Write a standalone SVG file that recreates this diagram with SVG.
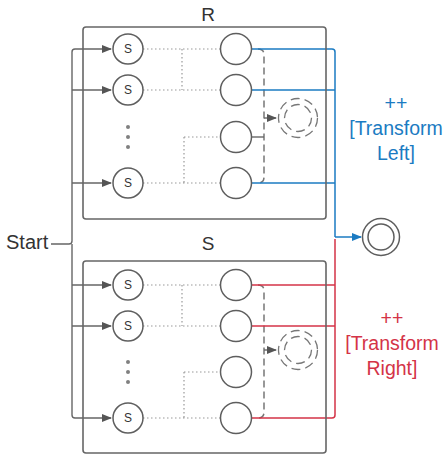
<svg xmlns="http://www.w3.org/2000/svg" width="447" height="456" viewBox="0 0 447 456">
<style>
.box{fill:none;stroke:#666;stroke-width:1.6}
.st{fill:#fff;stroke:#5e5e5e;stroke-width:1.5}
.lbl{font-family:"Liberation Sans",Arial,sans-serif;fill:#333}
.sl{font-size:12px;text-anchor:middle}
.ttl{font-size:19px;text-anchor:middle}
.dot{fill:none;stroke:#999;stroke-width:1.2;stroke-dasharray:1.5 2.5}
.dash{fill:none;stroke:#777;stroke-width:1.5;stroke-dasharray:7 4}
.dc{fill:none;stroke:#777;stroke-width:1.3;stroke-dasharray:9 5}
.g{fill:none;stroke:#666;stroke-width:1.4}
.blue{fill:none;stroke:#1b7bc2;stroke-width:1.5}
.red{fill:none;stroke:#d43347;stroke-width:1.5}
.ann{font-family:"Liberation Sans",Arial,sans-serif;font-size:19.5px;text-anchor:middle}
</style>
<defs>
<marker id="ag" markerWidth="10" markerHeight="8" refX="9" refY="4" orient="auto" markerUnits="userSpaceOnUse"><path d="M0,0 L10,4 L0,8 z" fill="#555"/></marker>
<marker id="ab" markerWidth="10" markerHeight="8" refX="9" refY="4" orient="auto" markerUnits="userSpaceOnUse"><path d="M0,0 L10,4 L0,8 z" fill="#1b7bc2"/></marker>
</defs>

<g id="start">
<text class="lbl" x="6" y="249" font-size="20">Start</text>
</g>

<g id="connectors">
<path class="g" d="M51,244 H69 Q72,244 72,241 V52 Q72,49 75,49 H111" marker-end="url(#ag)"/>
<path class="g" d="M72,90 H111" marker-end="url(#ag)"/>
<path class="g" d="M72,183 H111" marker-end="url(#ag)"/>
<path class="g" d="M72,244 V415 Q72,418 75,418 H111" marker-end="url(#ag)"/>
<path class="g" d="M72,285 H111" marker-end="url(#ag)"/>
<path class="g" d="M72,326 H111" marker-end="url(#ag)"/>

<path class="dot" d="M143,49 H220 M143,90 H220 M182,49 V90 M143,183 H220 M184,137 H220 M184,137 V183"/>
<path class="dot" d="M143,285 H220 M143,326 H220 M182,285 V326 M143,418 H220 M184,372 H220 M184,372 V418"/>

<path class="dash" d="M258,49 Q264,49 264,55 V177 Q264,183 258,183"/>
<path class="g" d="M251,137 H264"/>
<path class="g" d="M264,118 H276" marker-end="url(#ag)"/>
<path class="dash" d="M258,285 Q264,285 264,291 V412 Q264,418 258,418"/>
<path class="g" d="M264,350 H276" marker-end="url(#ag)"/>

<path class="blue" d="M251,49 H332 Q335,49 335,52 V237"/>
<path class="blue" d="M251,90 H335"/>
<path class="blue" d="M251,183 H335"/>
<path class="blue" d="M335,237 H361" marker-end="url(#ab)"/>
<path class="red" d="M335,239 V415 Q335,418 332,418 H251"/>
<path class="red" d="M251,285 H335"/>
<path class="red" d="M251,326 H335"/>
</g>

<g id="boxR">
<rect class="box" x="83" y="27" width="243" height="192" rx="3"/>
<text class="lbl ttl" x="208" y="21">R</text>
</g>
<g id="boxS">
<rect class="box" x="83" y="261" width="243" height="192" rx="3"/>
<text class="lbl ttl" x="208" y="250">S</text>
</g>

<g id="R-s1"><circle class="st" cx="128" cy="49" r="15"/><text class="lbl sl" x="128" y="53">S</text></g>
<g id="R-s2"><circle class="st" cx="128" cy="90" r="15"/><text class="lbl sl" x="128" y="94">S</text></g>
<g id="R-s3"><circle class="st" cx="128" cy="183" r="15"/><text class="lbl sl" x="128" y="187">S</text></g>
<g id="R-dots" fill="#808080"><circle cx="128" cy="127" r="2"/><circle cx="128" cy="137" r="2"/><circle cx="128" cy="147" r="2"/></g>
<g id="R-t1"><circle class="st" cx="236" cy="49" r="15.5"/></g>
<g id="R-t2"><circle class="st" cx="236" cy="90" r="15.5"/></g>
<g id="R-t3"><circle class="st" cx="236" cy="137" r="15.5"/></g>
<g id="R-t4"><circle class="st" cx="236" cy="183" r="15.5"/></g>
<g id="R-merge"><circle class="dc" cx="298" cy="118" r="19.5"/><circle class="dc" cx="298" cy="118" r="13.5"/></g>

<g id="S-s1"><circle class="st" cx="128" cy="285" r="15"/><text class="lbl sl" x="128" y="289">S</text></g>
<g id="S-s2"><circle class="st" cx="128" cy="326" r="15"/><text class="lbl sl" x="128" y="330">S</text></g>
<g id="S-s3"><circle class="st" cx="128" cy="418" r="15"/><text class="lbl sl" x="128" y="422">S</text></g>
<g id="S-dots" fill="#808080"><circle cx="128" cy="362" r="2"/><circle cx="128" cy="372" r="2"/><circle cx="128" cy="382" r="2"/></g>
<g id="S-t1"><circle class="st" cx="236" cy="285" r="15.5"/></g>
<g id="S-t2"><circle class="st" cx="236" cy="326" r="15.5"/></g>
<g id="S-t3"><circle class="st" cx="236" cy="372" r="15.5"/></g>
<g id="S-t4"><circle class="st" cx="236" cy="418" r="15.5"/></g>
<g id="S-merge"><circle class="dc" cx="298" cy="350" r="19.5"/><circle class="dc" cx="298" cy="350" r="13.5"/></g>

<g id="final"><circle class="st" cx="381" cy="237" r="18.5"/><circle class="st" cx="381" cy="237" r="13"/></g>

<g id="ann-left" fill="#1b7bc2">
<text class="ann" x="396" y="110">++</text>
<text class="ann" x="396" y="135">[Transform</text>
<text class="ann" x="396" y="160">Left]</text>
</g>
<g id="ann-right" fill="#d43347">
<text class="ann" x="392" y="325">++</text>
<text class="ann" x="392" y="350">[Transform</text>
<text class="ann" x="392" y="375">Right]</text>
</g>
</svg>
